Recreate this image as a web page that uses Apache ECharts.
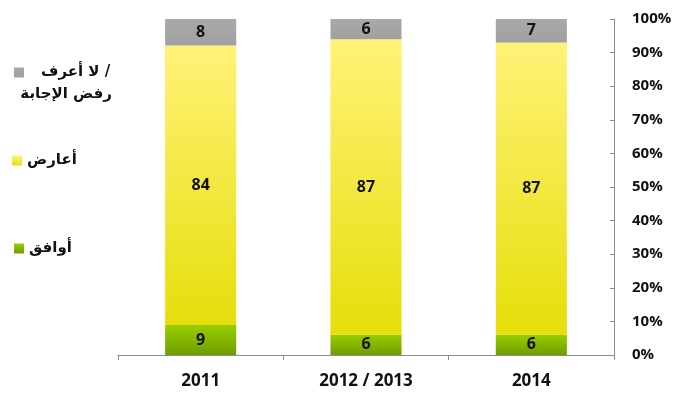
<!DOCTYPE html>
<html>
<head>
<meta charset="utf-8">
<script src="https://cdn.jsdelivr.net/npm/echarts@6/dist/echarts.min.js"></script>
<style>html,body{margin:0;padding:0;background:#fff}#c{width:680px;height:399px}</style>
</head>
<body>
<div id="c"></div>
<script>
var categories = ['2011', '2012 / 2013', '2014'];
var agree = [9, 6, 6];
var oppose = [84, 87, 87];
var dontKnow = [8, 6, 7];
var seriesNames = ['أوافق', 'أعارض', 'لا أعرف /'];
var dontKnowLine2 = 'رفض الإجابة';
var yTicks = [0, 10, 20, 30, 40, 50, 60, 70, 80, 90, 100];

var totals = categories.map(function (c, i) { return agree[i] + oppose[i] + dontKnow[i]; });
function toPct(arr) {
  return arr.map(function (v, i) { return { value: v / totals[i] * 100, raw: v }; });
}

var numFont = '"Open Sans", "DejaVu Sans", sans-serif';
var arFont = '"DejaVu Sans", sans-serif';

function grad(top, bottom) {
  return new echarts.graphic.LinearGradient(0, 0, 0, 1, [
    { offset: 0, color: top }, { offset: 1, color: bottom }
  ]);
}

var labelCfg = {
  show: true, position: 'inside', color: '#111', fontWeight: 'bold',
  fontSize: 16, fontFamily: numFont,
  formatter: function (p) { return p.data.raw; }
};

var legendText = { fontFamily: arFont, fontSize: 15, fontWeight: 'bold', color: '#111' };

var chart = echarts.init(document.getElementById('c'), null, { renderer: 'canvas' });
chart.setOption({
  animation: false,
  grid: { left: 118, right: 66, top: 19, bottom: 44 },
  legend: [
    { data: [seriesNames[2]], left: 14, top: 65, padding: 0, orient: 'vertical', icon: 'rect', itemWidth: 10, itemHeight: 10,
      textStyle: Object.assign({}, legendText, { padding: [0, 0, 0, 12] }), selectedMode: false },
    { data: [seriesNames[1]], left: 12, top: 153, padding: 0, orient: 'vertical', icon: 'rect', itemWidth: 10, itemHeight: 10,
      textStyle: legendText, selectedMode: false },
    { data: [seriesNames[0]], left: 14, top: 241, padding: 0, orient: 'vertical', icon: 'rect', itemWidth: 10, itemHeight: 10,
      textStyle: legendText, selectedMode: false }
  ],
  graphic: [{
    type: 'text', right: 568, top: 87,
    style: { text: dontKnowLine2, font: 'bold 15px "DejaVu Sans", sans-serif', fill: '#111', textAlign: 'right' }
  }],
  xAxis: {
    type: 'category', data: categories,
    axisLine: { lineStyle: { color: '#8c8c8c', width: 1 } },
    axisTick: { show: true, length: 5, lineStyle: { color: '#8c8c8c' } },
    axisLabel: { color: '#111', fontWeight: 'bold', fontSize: 17, fontFamily: numFont, margin: 18 }
  },
  yAxis: {
    type: 'value', position: 'right', min: 0, max: 100, interval: 10,
    splitLine: { show: false },
    axisLine: { show: true, lineStyle: { color: '#8c8c8c' } },
    axisTick: { show: true, inside: true, length: 4, lineStyle: { color: '#8c8c8c' } },
    axisLabel: { color: '#111', fontWeight: 'bold', fontSize: 15, fontFamily: numFont, margin: 18,
      formatter: function (v) { return yTicks.indexOf(v) >= 0 ? v + '%' : ''; } }
  },
  series: [
    { name: seriesNames[0], type: 'bar', stack: 's', barWidth: '43%', data: toPct(agree),
      itemStyle: { color: grad('#9ACD00', '#6E9E00') }, label: labelCfg },
    { name: seriesNames[1], type: 'bar', stack: 's', data: toPct(oppose),
      itemStyle: { color: grad('#FFF278', '#E6DE0A') }, label: labelCfg },
    { name: seriesNames[2], type: 'bar', stack: 's', data: toPct(dontKnow),
      itemStyle: { color: grad('#A9A9A9', '#A0A0A0') }, label: labelCfg }
  ]
});
</script>
</body>
</html>
